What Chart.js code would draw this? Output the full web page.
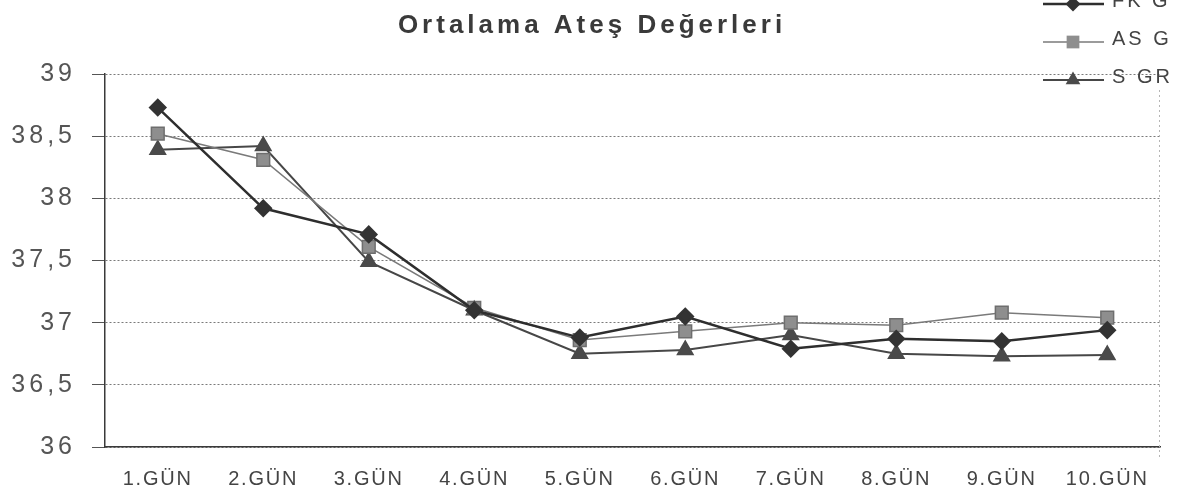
<!DOCTYPE html>
<html>
<head>
<meta charset="utf-8">
<script src="https://cdn.jsdelivr.net/npm/chart.js@4/dist/chart.umd.min.js"></script>
<style>
    html, body { margin: 0; padding: 0; background: #fff; }
    #wrap { width: 1184px; height: 489px; position: relative; }
</style>
</head>
<body>
<div id="wrap"><canvas id="feverChart"></canvas></div>
<script>
// Veriler (grafikten okunan tahmini değerler)
const TITLE = 'Ortalama Ateş Değerleri';
const days = ['1.GÜN', '2.GÜN', '3.GÜN', '4.GÜN', '5.GÜN', '6.GÜN', '7.GÜN', '8.GÜN', '9.GÜN', '10.GÜN'];
const fkG = [38.73, 37.92, 37.71, 37.10, 36.88, 37.05, 36.79, 36.87, 36.85, 36.94];
const asG = [38.52, 38.31, 37.61, 37.12, 36.86, 36.93, 37.00, 36.98, 37.08, 37.04];
const sGR = [38.39, 38.42, 37.49, 37.10, 36.75, 36.78, 36.90, 36.75, 36.73, 36.74];
const yTicks = [36, 36.5, 37, 37.5, 38, 38.5, 39];

const FONT = "'Liberation Sans', Arial, sans-serif";

// Etiketlere harf aralığı ekle (taranmış Excel grafiği gibi)
const spacingPlugin = {
    id: 'spacing',
    beforeDraw(chart) {
        Object.values(chart.scales).forEach(s => {
            if (s._spaced) return;
            const orig = s.drawLabels.bind(s);
            const sp = s.id === 'y' ? '4px' : '1.8px';
            s.drawLabels = (area) => {
                const c = s.ctx;
                c.save();
                c.letterSpacing = sp;
                orig(area);
                c.restore();
            };
            s._spaced = true;
        });
    }
};

// Başlık, sağ kenar ve dikey lejant
const decorPlugin = {
    id: 'decor',
    afterDraw(chart) {
        const ctx = chart.ctx;
        const area = chart.chartArea;

        // sağ kenar (noktalı, açık gri)
        ctx.save();
        ctx.strokeStyle = '#b5b5b5';
        ctx.lineWidth = 1;
        ctx.setLineDash([2, 3]);
        ctx.beginPath();
        ctx.moveTo(area.right - 0.5, 90);
        ctx.lineTo(area.right - 0.5, area.bottom + 10);
        ctx.stroke();
        ctx.restore();

        // başlık
        ctx.save();
        ctx.font = 'bold 26px ' + FONT;
        ctx.letterSpacing = '4px';
        ctx.fillStyle = '#3a3a3a';
        ctx.textAlign = 'center';
        ctx.textBaseline = 'alphabetic';
        ctx.fillText(TITLE, 592, 33);
        ctx.restore();

        // lejant
        const rows = [4, 42, 80];
        chart.data.datasets.forEach((ds, i) => {
            const y = rows[i];
            ctx.save();
            ctx.strokeStyle = ds.borderColor;
            ctx.lineWidth = ds.borderWidth;
            ctx.beginPath();
            ctx.moveTo(1043, y);
            ctx.lineTo(1104, y);
            ctx.stroke();
            ctx.fillStyle = ds.pointBackgroundColor;
            ctx.strokeStyle = ds.pointBorderColor;
            ctx.lineWidth = 1;
            Chart.helpers.drawPoint(ctx, {
                pointStyle: ds.pointStyle,
                radius: ds.pointRadius,
                rotation: 0
            }, 1073, y);
            ctx.font = '20px ' + FONT;
            ctx.letterSpacing = '3px';
            ctx.fillStyle = '#444';
            ctx.textAlign = 'left';
            ctx.textBaseline = 'middle';
            ctx.fillText(ds.label, 1112, y - 3);
            ctx.restore();
        });
    }
};

const ctx = document.getElementById('feverChart').getContext('2d');

new Chart(ctx, {
    type: 'line',
    data: {
        labels: days,
        datasets: [
            {
                label: 'FK G',
                data: fkG,
                borderColor: '#2e2e2e',
                borderWidth: 2.5,
                pointStyle: 'rectRot',
                pointRadius: 7.5,
                pointBackgroundColor: '#333',
                pointBorderColor: '#333',
                tension: 0
            },
            {
                label: 'AS G',
                data: asG,
                borderColor: '#7a7a7a',
                borderWidth: 1.5,
                pointStyle: 'rect',
                pointRadius: 9,
                pointBackgroundColor: '#8e8e8e',
                pointBorderColor: '#6e6e6e',
                tension: 0
            },
            {
                label: 'S GR',
                data: sGR,
                borderColor: '#474747',
                borderWidth: 2,
                pointStyle: 'triangle',
                pointRadius: 8.5,
                pointBackgroundColor: '#4a4a4a',
                pointBorderColor: '#4a4a4a',
                tension: 0
            }
        ]
    },
    options: {
        responsive: true,
        maintainAspectRatio: false,
        animation: false,
        layout: { padding: { top: 74, right: 24, bottom: 0, left: 0 } },
        plugins: {
            legend: { display: false },
            title: { display: false },
            tooltip: { enabled: false }
        },
        scales: {
            x: {
                offset: true,
                grid: { display: false },
                border: { display: true, color: '#3a3a3a', width: 1.5 },
                ticks: {
                    color: '#444',
                    padding: 12,
                    maxRotation: 0,
                    autoSkip: false,
                    font: { family: FONT, size: 20 }
                },
                afterFit: (s) => { s.height = 42; }
            },
            y: {
                min: 36,
                max: 39,
                afterBuildTicks: (s) => { s.ticks = yTicks.map(v => ({ value: v })); },
                grid: {
                    color: '#7a7a7a',
                    lineWidth: 1,
                    tickLength: 13,
                    tickColor: '#555'
                },
                border: { display: true, color: '#3a3a3a', width: 1.5, dash: [2, 2] },
                ticks: {
                    color: '#555',
                    padding: 16,
                    font: { family: FONT, size: 25 },
                    callback: (v) => String(v).replace('.', ',')
                },
                afterFit: (s) => { s.width = 105; }
            }
        }
    },
    plugins: [spacingPlugin, decorPlugin]
});
</script>
</body>
</html>
